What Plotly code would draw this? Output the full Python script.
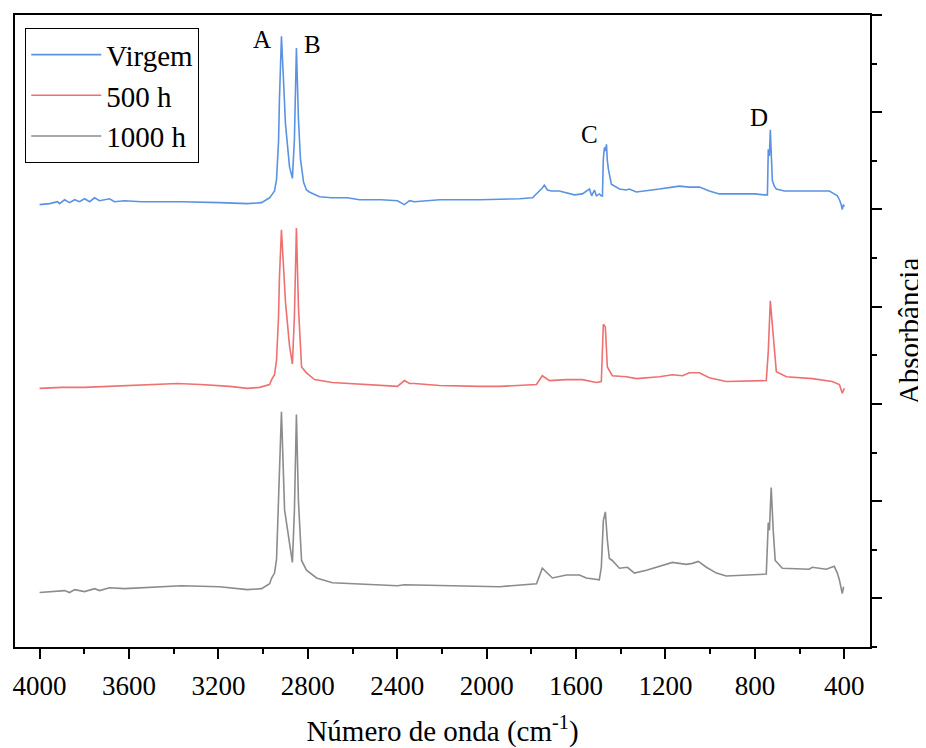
import plotly.graph_objects as go

# FTIR spectra (wavenumber in cm-1, absorbance in arbitrary stacked units)
wn_virgem = [4000, 3955, 3920, 3911, 3888, 3866, 3843, 3821, 3799, 3776, 3754, 3732, 3687, 3665,
             3620, 3544, 3463, 3365, 3195, 3070, 3007, 2971, 2958, 2949, 2940, 2931, 2927, 2918,
             2909, 2900, 2882, 2869, 2860, 2851, 2842, 2833, 2819, 2806, 2793, 2770, 2748, 2694,
             2623, 2569, 2471, 2399, 2368, 2345, 2323, 2211, 2032, 1853, 1795, 1751, 1742, 1728,
             1710, 1675, 1643, 1607, 1572, 1554, 1540, 1530, 1518, 1509, 1496, 1487, 1482, 1478,
             1473, 1469, 1464, 1460, 1455, 1442, 1406, 1375, 1362, 1330, 1285, 1227, 1169, 1138,
             1093, 1048, 1004, 959, 870, 800, 758, 744, 740, 735, 731, 727, 722, 713, 704, 668,
             601, 543, 467, 445, 431, 422, 415, 409, 404, 400]
abs_virgem = [4.05, 4.06, 4.08, 4.06, 4.10, 4.07, 4.10, 4.08, 4.11, 4.08, 4.12, 4.09, 4.11, 4.08,
              4.09, 4.08, 4.08, 4.08, 4.07, 4.06, 4.07, 4.12, 4.16, 4.19, 4.31, 4.70, 5.13, 5.78,
              5.34, 4.88, 4.44, 4.32, 4.72, 5.66, 4.93, 4.52, 4.28, 4.20, 4.18, 4.15, 4.13, 4.12,
              4.12, 4.10, 4.10, 4.09, 4.05, 4.09, 4.08, 4.10, 4.10, 4.11, 4.12, 4.22, 4.25, 4.20,
              4.19, 4.19, 4.17, 4.15, 4.16, 4.19, 4.21, 4.14, 4.20, 4.14, 4.16, 4.14, 4.14, 4.52,
              4.64, 4.60, 4.67, 4.50, 4.41, 4.26, 4.21, 4.20, 4.21, 4.18, 4.19, 4.21, 4.23, 4.24,
              4.23, 4.23, 4.19, 4.16, 4.16, 4.16, 4.15, 4.15, 4.62, 4.55, 4.82, 4.60, 4.30, 4.24,
              4.21, 4.19, 4.19, 4.19, 4.19, 4.16, 4.14, 4.10, 4.06, 4.00, 4.05, 4.03]

wn_500 = [4000, 3900, 3800, 3700, 3600, 3500, 3383, 3280, 3150, 3070, 3016, 2971, 2962, 2949,
          2940, 2931, 2927, 2918, 2909, 2900, 2882, 2869, 2860, 2851, 2842, 2833, 2828, 2806,
          2770, 2690, 2550, 2399, 2368, 2345, 2323, 2211, 2032, 1943, 1777, 1751, 1719, 1643,
          1572, 1509, 1487, 1478, 1469, 1460, 1438, 1375, 1330, 1227, 1169, 1124, 1093, 1048,
          1004, 928, 749, 740, 731, 718, 704, 659, 543, 454, 422, 409, 400]
abs_500 = [2.16, 2.17, 2.17, 2.18, 2.19, 2.20, 2.21, 2.20, 2.18, 2.16, 2.17, 2.20, 2.25, 2.30,
           2.45, 2.90, 3.30, 3.79, 3.40, 3.05, 2.60, 2.41, 2.90, 3.81, 3.00, 2.60, 2.38, 2.32,
           2.25, 2.22, 2.20, 2.18, 2.24, 2.21, 2.21, 2.19, 2.18, 2.18, 2.20, 2.29, 2.24, 2.25,
           2.25, 2.22, 2.23, 2.82, 2.79, 2.38, 2.29, 2.28, 2.26, 2.28, 2.30, 2.29, 2.32, 2.32,
           2.27, 2.23, 2.24, 2.54, 3.06, 2.66, 2.33, 2.28, 2.26, 2.23, 2.20, 2.11, 2.16]

wn_1000 = [4000, 3920, 3888, 3866, 3843, 3799, 3754, 3732, 3687, 3620, 3544, 3463, 3365, 3195,
           3070, 3007, 2971, 2962, 2949, 2940, 2931, 2918, 2904, 2882, 2869, 2860, 2851, 2842,
           2833, 2828, 2806, 2761, 2690, 2569, 2399, 2368, 2211, 2032, 1943, 1777, 1751, 1706,
           1643, 1585, 1554, 1496, 1487, 1478, 1469, 1460, 1451, 1438, 1406, 1370, 1339, 1285,
           1227, 1169, 1107, 1080, 1053, 1017, 972, 928, 749, 740, 735, 727, 718, 709, 677, 557,
           543, 481, 445, 431, 422, 409, 403]
abs_1000 = [0.06, 0.07, 0.08, 0.06, 0.09, 0.07, 0.10, 0.08, 0.11, 0.10, 0.11, 0.12, 0.13, 0.12,
            0.09, 0.10, 0.15, 0.21, 0.26, 0.40, 1.01, 1.92, 0.91, 0.57, 0.37, 0.90, 1.89, 1.00,
            0.60, 0.39, 0.29, 0.21, 0.16, 0.15, 0.13, 0.14, 0.13, 0.12, 0.12, 0.15, 0.31, 0.21,
            0.24, 0.24, 0.21, 0.19, 0.32, 0.80, 0.89, 0.60, 0.41, 0.39, 0.31, 0.32, 0.26, 0.29,
            0.33, 0.37, 0.35, 0.36, 0.38, 0.32, 0.26, 0.23, 0.25, 0.78, 0.70, 1.14, 0.70, 0.39,
            0.31, 0.30, 0.32, 0.30, 0.33, 0.26, 0.19, 0.05, 0.12]

series = [
    ("Virgem", wn_virgem, abs_virgem, "#5b93e3"),
    ("500 h", wn_500, abs_500, "#ef7070"),
    ("1000 h", wn_1000, abs_1000, "#8c8c8c"),
]

# peak labels
peak_labels = ["A", "B", "C", "D"]
peak_x = [3003, 2779, 1540, 780]
peak_y = [5.75, 5.70, 4.77, 4.95]

serif = "Liberation Serif, Times New Roman, serif"

fig = go.Figure()
for name, x, y, color in series:
    fig.add_trace(go.Scatter(x=x, y=y, mode="lines", name=name,
                             line=dict(color=color, width=1.6)))

for lab, x, y in zip(peak_labels, peak_x, peak_y):
    fig.add_annotation(x=x, y=y, text=lab, showarrow=False,
                       font=dict(family=serif, size=25, color="black"))

# the page body adds an 8px margin, so the figure is drawn a bit smaller
fig.update_layout(
    width=918, height=740,
    margin=dict(l=7, r=56, t=7, b=101),
    plot_bgcolor="white", paper_bgcolor="white",
    font=dict(family=serif, color="black"),
    legend=dict(x=0.012, y=0.979, xanchor="left", yanchor="top",
                bordercolor="black", borderwidth=1, bgcolor="white",
                font=dict(family=serif, size=29), tracegroupgap=0, itemwidth=70),
)
fig.update_xaxes(
    range=[4110, 285], tickvals=[4000, 3600, 3200, 2800, 2400, 2000, 1600, 1200, 800, 400],
    ticks="outside", ticklen=10, tickwidth=1.5, tickcolor="black", ticklabelstandoff=4,
    minor=dict(dtick=200, tick0=0, ticks="outside", ticklen=5, tickwidth=1.5, tickcolor="black"),
    showline=True, linecolor="black", linewidth=1.5, mirror=True,
    showgrid=False, zeroline=False, automargin=False,
    tickfont=dict(family=serif, size=27),
    title=dict(text="Número de onda (cm<sup>-1</sup>)", font=dict(family=serif, size=29), standoff=26),
)
fig.update_yaxes(
    range=[-0.5, 6.0], side="right", dtick=1, tick0=0,
    ticks="outside", ticklen=10, tickwidth=1.5, tickcolor="black", showticklabels=False,
    minor=dict(dtick=0.5, tick0=0, ticks="outside", ticklen=5, tickwidth=1.5, tickcolor="black"),
    showline=True, linecolor="black", linewidth=1.5, mirror=True,
    showgrid=False, zeroline=False, automargin=False,
    title=dict(text="Absorbância", font=dict(family=serif, size=29), standoff=18),
)

fig.write_html("out.html")
